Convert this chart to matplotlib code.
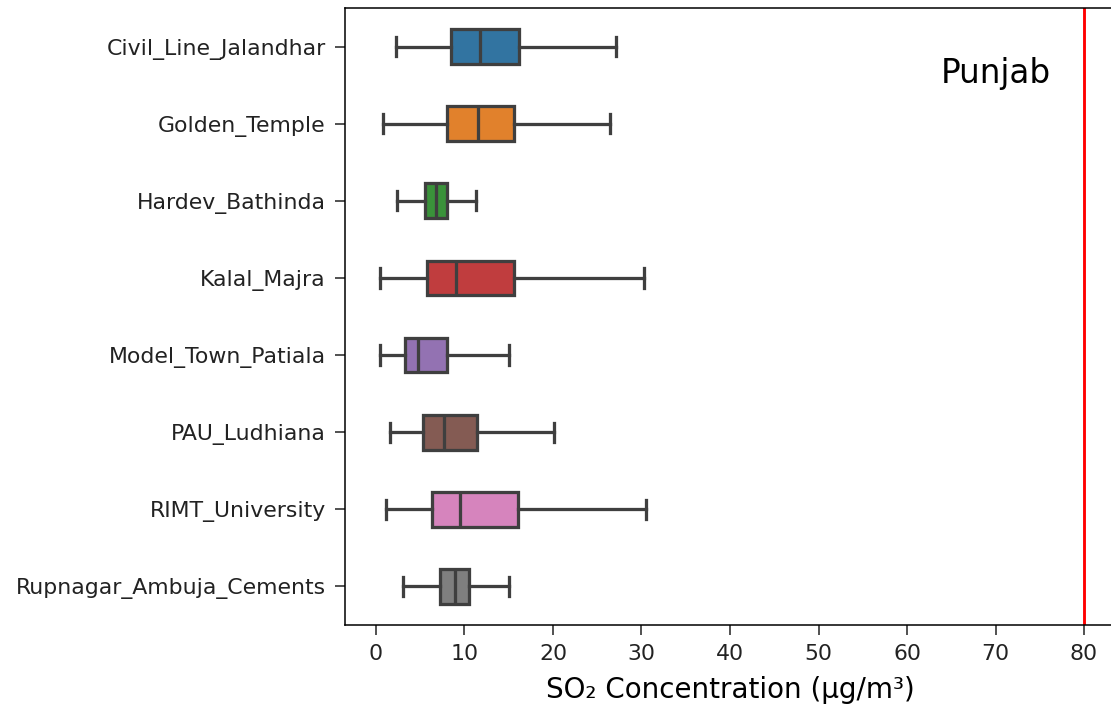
import numpy as np
import matplotlib
matplotlib.use("Agg")
import matplotlib.pyplot as plt

# stations and box stats (ug/m3)
stations = ["Civil_Line_Jalandhar", "Golden_Temple", "Hardev_Bathinda", "Kalal_Majra",
            "Model_Town_Patiala", "PAU_Ludhiana", "RIMT_University", "Rupnagar_Ambuja_Cements"]
whislo = [2.3, 0.8, 2.4, 0.4, 0.4, 1.6, 1.1, 3.1]
q1     = [8.5, 8.0, 5.5, 5.8, 3.3, 5.3, 6.3, 7.2]
med    = [11.8, 11.5, 6.8, 9.0, 4.7, 7.7, 9.5, 8.9]
q3     = [16.2, 15.6, 8.0, 15.6, 8.0, 11.4, 16.1, 10.5]
whishi = [27.1, 26.4, 11.3, 30.3, 15.0, 20.1, 30.5, 15.0]
limit = 80
region = "Punjab"

colors = ["#3274a1", "#e1812c", "#3a923a", "#c03d3e", "#9372b2", "#845b53", "#d684bd", "#7f7f7f"]
edge = "#3f3f3f"

dpi = 138
fig = plt.figure(figsize=(1111/dpi, 706/dpi), dpi=dpi)
ax = fig.add_axes([345/1111, 1 - 625/706, (1115-345)/1111, (625-8)/706])

stats = []
for i in range(len(stations)):
	stats.append(dict(label=stations[i], whislo=whislo[i], q1=q1[i], med=med[i],
	                  q3=q3[i], whishi=whishi[i], fliers=[]))

bp = ax.bxp(stats, positions=np.arange(len(stations)), widths=0.45, vert=False,
            patch_artist=True, showfliers=False,
            boxprops=dict(edgecolor=edge, linewidth=1.7),
            medianprops=dict(color=edge, linewidth=1.7),
            whiskerprops=dict(color=edge, linewidth=1.7),
            capprops=dict(color=edge, linewidth=1.7),
            capwidths=0.25)
for patch, c in zip(bp["boxes"], colors):
	patch.set_facecolor(c)

ax.axvline(limit, color="red", linewidth=1.5)
ax.text(70, 0.35, region, fontsize=17, ha="center", va="center")

ax.set_xlim(-3.5, 83.5)
ax.set_ylim(len(stations) - 0.5, -0.5)
ax.set_xticks(np.arange(0, 90, 10))
ax.tick_params(labelsize=11.5, length=5, pad=5, color="#222222", labelcolor="#222222")
ax.set_xlabel("SO₂ Concentration (µg/m³)", fontsize=14.5, labelpad=6)

fig.savefig("out.png", dpi=dpi)
